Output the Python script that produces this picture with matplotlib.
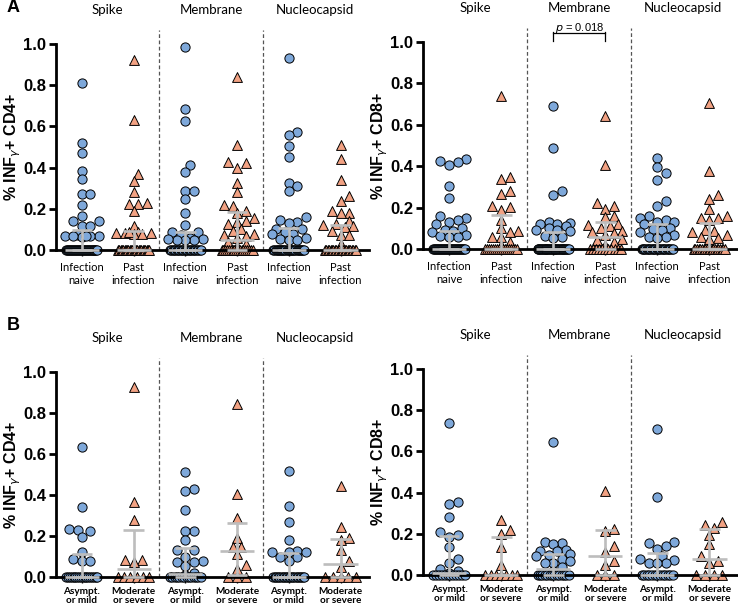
import numpy as np
import matplotlib.pyplot as plt

plt.rcParams['font.family'] = ['Liberation Sans', 'DejaVu Sans']
plt.rcParams['mathtext.fontset'] = 'dejavusans'

# ---- data (% IFN-gamma+ cells) ----
antigens = ['Spike', 'Membrane', 'Nucleocapsid']
labels_a = ['Infection\nnaive', 'Past\ninfection'] * 3
labels_b = ['Asympt.\nor mild', 'Moderate\nor severe'] * 3

# A, CD4+
a4_spike_naive = [0.81, 0.52, 0.47, 0.385, 0.345, 0.27, 0.27, 0.22, 0.167, 0.142, 0.142, 0.117, 0.117,
                  0.075, 0.07, 0.07, 0.068, 0.065, 0.07, 0.068] + [0.0] * 33
a4_spike_past = [0.92, 0.63, 0.367, 0.335, 0.28, 0.23, 0.225, 0.225, 0.19, 0.117,
                 0.085, 0.083, 0.083, 0.08, 0.083, 0.085, 0.08] + [0.0] * 25
a4_memb_naive = [0.984, 0.686, 0.625, 0.413, 0.38, 0.288, 0.288, 0.246, 0.18, 0.121,
                 0.085, 0.085, 0.075, 0.06, 0.055, 0.05, 0.05, 0.05, 0.055] + [0.0] * 24
a4_memb_past = [0.838, 0.51, 0.425, 0.42, 0.40, 0.325, 0.28, 0.218, 0.215, 0.19, 0.18, 0.155, 0.14,
                0.135, 0.125, 0.1, 0.09, 0.08, 0.075, 0.07, 0.06, 0.04, 0.03, 0.02] + [0.0] * 18
a4_nuc_naive = [0.933, 0.575, 0.56, 0.505, 0.45, 0.323, 0.31, 0.286, 0.16, 0.145, 0.135, 0.13,
                0.10, 0.10, 0.085, 0.08, 0.08, 0.06, 0.055, 0.05, 0.05] + [0.0] * 29
a4_nuc_past = [0.51, 0.443, 0.341, 0.264, 0.238, 0.19, 0.182, 0.182, 0.14, 0.125, 0.12, 0.115,
               0.11, 0.09, 0.075, 0.075, 0.03] + [0.0] * 23

# A, CD8+
a8_spike_naive = [0.435, 0.425, 0.42, 0.405, 0.306, 0.245, 0.16, 0.15, 0.14, 0.13, 0.12, 0.1,
                  0.09, 0.085, 0.08, 0.07, 0.065, 0.06, 0.06] + [0.0] * 33
a8_spike_past = [0.739, 0.35, 0.34, 0.28, 0.265, 0.21, 0.205, 0.19, 0.14, 0.1, 0.085, 0.08,
                 0.06, 0.06, 0.035, 0.02] + [0.0] * 17
a8_memb_naive = [0.69, 0.486, 0.28, 0.26, 0.13, 0.125, 0.12, 0.12, 0.11, 0.1, 0.09, 0.09,
                 0.085, 0.065, 0.06, 0.055] + [0.0] * 36
a8_memb_past = [0.642, 0.406, 0.22, 0.21, 0.195, 0.16, 0.155, 0.12, 0.115, 0.11, 0.1, 0.085,
                0.08, 0.075, 0.07, 0.05, 0.045, 0.035, 0.02] + [0.0] * 11
a8_nuc_naive = [0.44, 0.395, 0.365, 0.335, 0.23, 0.21, 0.16, 0.15, 0.14, 0.13, 0.13, 0.12,
                0.1, 0.095, 0.09, 0.08, 0.07, 0.06, 0.06, 0.055] + [0.0] * 26
a8_nuc_past = [0.705, 0.378, 0.26, 0.24, 0.195, 0.16, 0.15, 0.15, 0.14, 0.09, 0.085, 0.08,
               0.07, 0.06, 0.055, 0.05] + [0.0] * 20

# B, CD4+
b4_spike_mild = [0.636, 0.341, 0.232, 0.228, 0.226, 0.197, 0.122, 0.088, 0.08, 0.08] + [0.0] * 18
b4_spike_sev = [0.925, 0.367, 0.278, 0.085, 0.085, 0.075] + [0.0] * 6
b4_memb_mild = [0.514, 0.43, 0.42, 0.325, 0.225, 0.222, 0.179, 0.13, 0.13, 0.1, 0.08, 0.075,
                0.075, 0.055, 0.02, 0.01] + [0.0] * 14
b4_memb_sev = [0.844, 0.403, 0.289, 0.189, 0.148, 0.145, 0.11, 0.06, 0.04] + [0.0] * 3
b4_nuc_mild = [0.516, 0.346, 0.267, 0.18, 0.125, 0.12, 0.12, 0.12, 0.1, 0.1, 0.08] + [0.0] * 21
b4_nuc_sev = [0.445, 0.242, 0.19, 0.18, 0.13, 0.08, 0.05] + [0.0] * 5

# B, CD8+
b8_spike_mild = [0.739, 0.352, 0.343, 0.283, 0.21, 0.195, 0.185, 0.135, 0.08, 0.06, 0.03,
                 0.02, 0.01] + [0.0] * 12
b8_spike_sev = [0.267, 0.218, 0.2, 0.137, 0.049] + [0.0] * 7
b8_memb_mild = [0.644, 0.16, 0.155, 0.15, 0.12, 0.115, 0.115, 0.1, 0.095, 0.09, 0.08, 0.07,
                0.06, 0.06, 0.04, 0.02] + [0.0] * 14
b8_memb_sev = [0.408, 0.225, 0.215, 0.14, 0.11, 0.07, 0.05] + [0.0] * 3
b8_nuc_mild = [0.707, 0.38, 0.16, 0.155, 0.14, 0.125, 0.09, 0.08, 0.075, 0.06, 0.06, 0.06] + [0.0] * 13
b8_nuc_sev = [0.255, 0.245, 0.23, 0.194, 0.15, 0.09, 0.07, 0.06] + [0.0] * 4

yticks = [0.0, 0.2, 0.4, 0.6, 0.8, 1.0]

BLUE = '#7ea8da'
SALMON = '#f2a283'
GREY = '#bdbdbd'

W, H = 738, 608
fig = plt.figure(figsize=(W / 100, H / 100), dpi=100)


def swarm(vals, center, sx, sy, diam=8.6, maxw=0.36):
    # simple beeswarm in pixel space; zeros spread as a compressed row
    vals = np.asarray(vals, float)
    xs = np.full(len(vals), float(center))
    zero = vals == 0
    nz = int(zero.sum())
    if nz > 1:
        half = min(0.3, (nz - 1) * diam / sx / 2)
        xs[zero] = center + np.linspace(-half, half, nz)
    step = diam / sx / 2
    cands = [0.0]
    k = 1
    while k * step <= maxw:
        cands += [k * step, -k * step]
        k += 1
    placed = []
    for i in np.argsort(vals):
        if zero[i]:
            continue
        y = vals[i] * sy
        best, bestd = 0.0, -1.0
        for off in cands:
            d = min([np.hypot(off * sx - px, y - py) for px, py in placed], default=1e9)
            if d >= diam * 0.88:
                best = off
                break
            if d > bestd:
                best, bestd = off, d
        placed.append((best * sx, y))
        xs[i] = center + best
    return xs


def panel(rect, groups, xlabels, ylabel, title_y=1.165):
    left, top, right, bottom = rect
    ax = fig.add_axes([left / W, 1 - bottom / H, (right - left) / W, (bottom - top) / H])
    xlo, xhi = -0.5, 5.55
    ax.set_xlim(xlo, xhi)
    ax.set_ylim(0, 1.0)
    sx = (right - left) / (xhi - xlo)
    sy = bottom - top
    for i, vals in enumerate(groups):
        naive = i % 2 == 0
        xs = swarm(vals, i, sx, sy)
        ax.scatter(xs, vals, s=44 if naive else 50, marker='o' if naive else '^',
                   c=BLUE if naive else SALMON, edgecolors='black', linewidths=0.7,
                   clip_on=False, zorder=2)
        q1, med, q3 = np.percentile(vals, [25, 50, 75], method='weibull')
        kw = dict(color=GREY, lw=1.9, zorder=3, solid_capstyle='butt', clip_on=False)
        ax.plot([i, i], [q1, q3], **kw)
        ax.plot([i - 0.2, i + 0.2], [q3, q3], **kw)
        ax.plot([i - 0.2, i + 0.2], [q1, q1], **kw)
        ax.plot([i - 0.33, i + 0.33], [med, med], **kw)
    for xd in (1.5, 3.5):
        ax.plot([xd, xd], [0, 1.07], ls=(0, (3, 2)), color='#555555', lw=0.9, clip_on=False)
    for j, name in enumerate(antigens):
        ax.text(2 * j + 0.5, title_y, name, ha='center', va='center', fontsize=9.5,
                family='Lato', clip_on=False)
    for s in ('top', 'right'):
        ax.spines[s].set_visible(False)
    ax.spines['left'].set_linewidth(2)
    ax.spines['bottom'].set_linewidth(2)
    ax.set_yticks(yticks)
    ax.set_yticklabels([f'{v:.1f}' for v in yticks], fontsize=12, fontweight='bold')
    ax.tick_params(axis='y', length=5, width=2, pad=2)
    ax.set_xticks(range(6))
    bold = xlabels is labels_b
    ax.set_xticklabels(xlabels, fontsize=7.2 if bold else 8, family='Lato',
                       fontweight='bold' if bold else 'normal',
                       linespacing=1.05 if bold else 1.15)
    ax.tick_params(axis='x', length=4, width=1, pad=3 if bold else 5)
    ax.set_ylabel(ylabel, fontsize=11.5, fontweight='bold')
    ax.yaxis.set_label_coords(-0.105, 0.5)
    return ax


ax_a4 = panel((56, 44, 369, 250), [a4_spike_naive, a4_spike_past, a4_memb_naive,
                                    a4_memb_past, a4_nuc_naive, a4_nuc_past],
              labels_a, r'% INF$_\gamma$+ CD4+')
ax_a8 = panel((423, 42, 738, 249), [a8_spike_naive, a8_spike_past, a8_memb_naive,
                                     a8_memb_past, a8_nuc_naive, a8_nuc_past],
              labels_a, r'% INF$_\gamma$+ CD8+')
ax_b4 = panel((56, 372, 369, 577), [b4_spike_mild, b4_spike_sev, b4_memb_mild,
                                     b4_memb_sev, b4_nuc_mild, b4_nuc_sev],
              labels_b, r'% INF$_\gamma$+ CD4+')
ax_b8 = panel((423, 369, 738, 575), [b8_spike_mild, b8_spike_sev, b8_memb_mild,
                                      b8_memb_sev, b8_nuc_mild, b8_nuc_sev],
              labels_b, r'% INF$_\gamma$+ CD8+')

# significance bracket (membrane, CD8+)
ax_a8.plot([2, 2, 3, 3], [1.003, 1.042, 1.042, 1.003], color='black', lw=0.9, clip_on=False)
ax_a8.plot([2, 2], [1.042, 1.05], color='black', lw=0.9, clip_on=False)
ax_a8.plot([3, 3], [1.042, 1.05], color='black', lw=0.9, clip_on=False)
ax_a8.text(2.5, 1.07, r'$\it{p}$ = 0.018', ha='center', va='center', fontsize=8, clip_on=False)

fig.text(7 / W, 1 - 8 / H, 'A', fontsize=13, fontweight='bold', va='center')
fig.text(7 / W, 1 - 325 / H, 'B', fontsize=13, fontweight='bold', va='center')

fig.savefig('out.png', dpi=100)
